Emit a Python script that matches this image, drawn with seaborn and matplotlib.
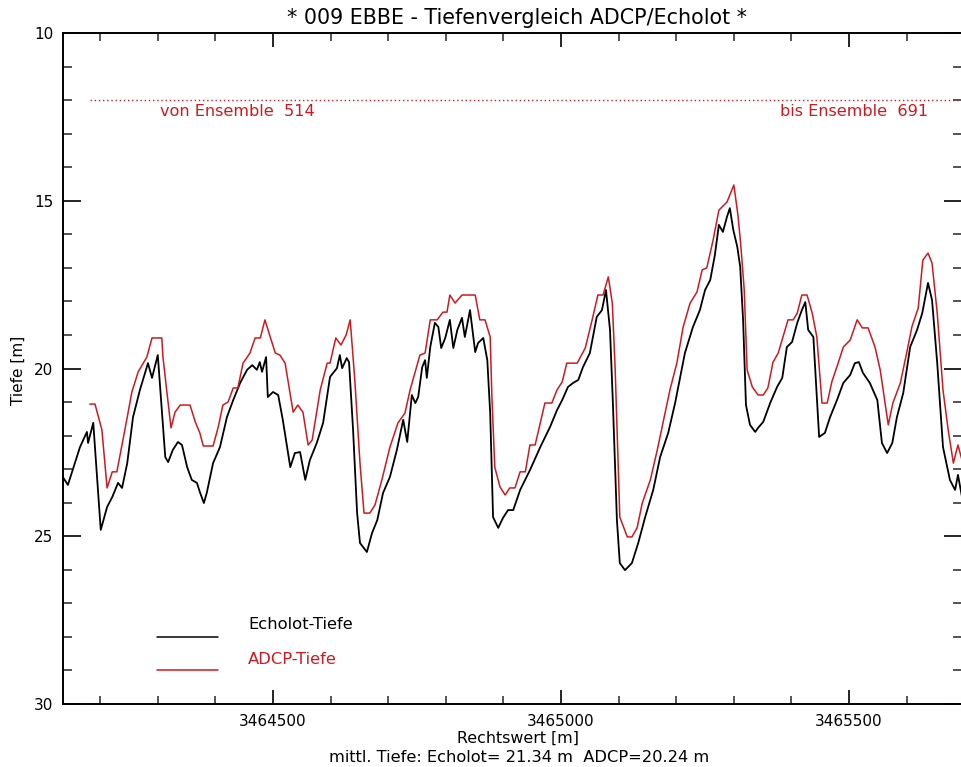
import numpy as np
import pandas as pd
import seaborn as sns
import matplotlib
matplotlib.use("Agg")
import matplotlib.pyplot as plt
from matplotlib.ticker import MultipleLocator

# ---------------- data ----------------
echo_x = [
    3464135, 3464144, 3464165, 3464177, 3464179, 3464188, 3464201, 3464212, 3464221, 3464231,
    3464238, 3464247, 3464257, 3464269, 3464278, 3464283, 3464290, 3464300, 3464313, 3464318,
    3464326, 3464335, 3464342, 3464351, 3464359, 3464368, 3464373, 3464380, 3464385, 3464396,
    3464408, 3464420, 3464431, 3464443, 3464455, 3464464, 3464472, 3464477, 3464481, 3464488,
    3464491, 3464500, 3464509, 3464517, 3464530, 3464538, 3464547,
    3464556, 3464564, 3464576, 3464587, 3464599, 3464611, 3464616, 3464620, 3464628, 3464632,
    3464639, 3464646, 3464651, 3464663, 3464672, 3464681, 3464691, 3464703, 3464715, 3464726,
    3464733, 3464741, 3464747, 3464752, 3464759, 3464764, 3464767, 3464773, 3464781, 3464787,
    3464792, 3464799, 3464807, 3464813, 3464820, 3464828, 3464833, 3464842, 3464851, 3464856,
    3464865, 3464872, 3464877, 3464882, 3464891, 3464899, 3464908, 3464917, 3464929, 3464946,
    3464964, 3464981, 3464993, 3465002, 3465012, 3465021, 3465030, 3465038, 3465050, 3465062,
    3465071, 3465078, 3465085, 3465090, 3465097, 3465102, 3465111, 3465123, 3465134, 3465146,
    3465160, 3465172, 3465186, 3465198, 3465207, 3465215, 3465229, 3465241, 3465250, 3465259,
    3465267, 3465274, 3465281, 3465288, 3465293, 3465299, 3465306, 3465311, 3465316, 3465321,
    3465328, 3465337, 3465342, 3465351, 3465363, 3465375, 3465384, 3465392, 3465401, 3465410,
    3465418, 3465424, 3465429, 3465438, 3465444, 3465448, 3465458, 3465467, 3465479, 3465490,
    3465502, 3465510, 3465517, 3465524, 3465536, 3465549, 3465557, 3465566, 3465575, 3465583,
    3465594, 3465606, 3465618, 3465627, 3465637, 3465644, 3465653, 3465663, 3465675, 3465684,
    3465689, 3465696,
]
echo_y = [
    23.23, 23.47, 22.34, 21.89, 22.22, 21.62, 24.81, 24.13, 23.83, 23.41,
    23.56, 22.82, 21.45, 20.64, 20.13, 19.84, 20.28, 19.60, 22.64, 22.79,
    22.43, 22.19, 22.28, 22.94, 23.32, 23.41, 23.68, 24.01, 23.71, 22.82,
    22.34, 21.45, 20.94, 20.43, 20.04, 19.90, 20.04, 19.81, 20.10, 19.66,
    20.85, 20.70, 20.79, 21.53, 22.94, 22.52, 22.49,
    23.32, 22.73, 22.22, 21.62, 20.25, 19.99, 19.60, 19.99, 19.69, 19.81,
    21.83, 24.31, 25.20, 25.47, 24.90, 24.52, 23.71, 23.23, 22.43, 21.53,
    22.19, 20.79, 21.03, 20.85, 19.96, 19.75, 20.28, 19.36, 18.64, 18.76,
    19.39, 19.09, 18.55, 19.39, 18.85, 18.49, 19.06, 18.26, 19.51, 19.24,
    19.09, 19.75, 21.33, 24.43, 24.75, 24.46, 24.22, 24.22, 23.62, 23.03,
    22.34, 21.74, 21.24, 20.94, 20.55, 20.43, 20.34, 19.96, 19.54, 18.46,
    18.26, 17.66, 18.85, 21.03, 24.52, 25.80, 26.01, 25.80, 25.20, 24.43,
    23.62, 22.64, 21.92, 21.03, 20.25, 19.54, 18.76, 18.26, 17.66, 17.36,
    16.62, 15.72, 15.93, 15.48, 15.22, 15.87, 16.38, 16.97, 18.55, 21.09,
    21.68, 21.89, 21.77, 21.59, 21.03, 20.55, 20.28, 19.36, 19.21, 18.64,
    18.26, 18.02, 18.85, 19.06, 20.85, 22.04, 21.92, 21.45, 20.94, 20.43,
    20.19, 19.84, 19.81, 20.13, 20.43, 20.94, 22.22, 22.52, 22.22, 21.45,
    20.73, 19.36, 18.85, 18.35, 17.45, 17.96, 19.84, 22.34, 23.32, 23.62,
    23.17, 23.83,
]

adcp_x = [
    3464182, 3464191, 3464203, 3464212, 3464221, 3464229, 3464247, 3464255, 3464266, 3464281,
    3464290, 3464307, 3464309, 3464316, 3464323, 3464330, 3464339, 3464356, 3464365, 3464373,
    3464379, 3464396, 3464405, 3464413, 3464422, 3464431, 3464439, 3464448, 3464460, 3464469,
    3464478, 3464486, 3464493, 3464504, 3464512, 3464521, 3464535, 3464543,
    3464552, 3464561, 3464568, 3464582, 3464594, 3464599, 3464609, 3464618, 3464627, 3464634,
    3464642, 3464651, 3464658, 3464668, 3464677, 3464689, 3464703, 3464717, 3464729, 3464738,
    3464755, 3464764, 3464773, 3464785, 3464795, 3464802, 3464807, 3464816, 3464828, 3464851,
    3464859, 3464868, 3464877, 3464880, 3464885, 3464894, 3464903, 3464911, 3464920, 3464929,
    3464938, 3464946,
    3464955, 3464972, 3464984, 3464993, 3465002, 3465010, 3465028, 3465042, 3465054, 3465064,
    3465073, 3465082, 3465089, 3465094, 3465102, 3465115, 3465123, 3465132, 3465141, 3465155,
    3465167, 3465177, 3465189, 3465201, 3465212, 3465224, 3465236, 3465245, 3465253, 3465264,
    3465274, 3465288, 3465300, 3465307, 3465312, 3465318, 3465323,
    3465332, 3465342, 3465351, 3465359, 3465368, 3465377, 3465394, 3465403, 3465410, 3465418,
    3465427, 3465436, 3465444, 3465453, 3465462, 3465470, 3465481, 3465490, 3465502, 3465514,
    3465523, 3465533, 3465545, 3465554, 3465568, 3465576, 3465589, 3465601, 3465609, 3465620,
    3465628, 3465637, 3465644, 3465653, 3465663, 3465672, 3465681, 3465689, 3465696,
]
adcp_y = [
    21.06, 21.06, 21.83, 23.56, 23.08, 23.08, 21.45, 20.70, 20.10, 19.66,
    19.09, 19.09, 19.66, 20.73, 21.77, 21.30, 21.09, 21.09, 21.59, 21.92,
    22.31, 22.31, 21.74, 21.09, 21.00, 20.58, 20.58, 19.84, 19.54, 19.09,
    19.09, 18.55, 18.94, 19.54, 19.60, 19.84, 21.30, 21.09,
    21.30, 22.28, 22.13, 20.64, 19.84, 19.84, 19.09, 19.30, 19.00, 18.55,
    20.34, 22.82, 24.31, 24.31, 24.07, 23.32, 22.34, 21.62, 21.33, 20.64,
    19.60, 19.54, 18.55, 18.55, 18.32, 18.32, 17.81, 18.05, 17.81, 17.81,
    18.55, 18.55, 19.06, 20.85, 22.94, 23.53, 23.77, 23.56, 23.56, 23.08,
    23.08, 22.28,
    22.28, 21.03, 21.03, 20.64, 20.40, 19.84, 19.84, 19.39, 18.55, 17.81,
    17.81, 17.27, 18.05, 20.04, 24.43, 25.02, 25.02, 24.75, 24.01, 23.32,
    22.43, 21.62, 20.64, 19.84, 18.76, 18.05, 17.72, 17.06, 17.00, 16.17,
    15.28, 15.04, 14.53, 15.42, 16.32, 17.66, 20.04,
    20.55, 20.79, 20.79, 20.58, 19.81, 19.54, 18.55, 18.55, 18.35, 17.81,
    17.81, 18.35, 19.06, 21.03, 21.03, 20.40, 19.84, 19.36, 19.15, 18.55,
    18.79, 18.79, 19.36, 20.04, 21.68, 21.03, 20.43, 19.45, 18.76, 18.20,
    16.77, 16.56, 16.86, 18.35, 20.64, 21.83, 22.82, 22.28, 22.73,
]

ensemble_from = 514
ensemble_to = 691
marker_depth = 12.0
marker_start = 3464182
mean_echo = 21.34
mean_adcp = 20.24
x_limits = (3464136, 3465696)
y_limits = (30, 10)
x_major_ticks = [3464500, 3465000, 3465500]
y_major_ticks = [10, 15, 20, 25, 30]

title = "* 009 EBBE - Tiefenvergleich ADCP/Echolot *"
series_names = ["Echolot-Tiefe", "ADCP-Tiefe"]

RED = "#d2181e"

# ---------------- figure ----------------
sns.set_theme(style="ticks")
plt.rcParams["font.family"] = ["DejaVu Sans"]
plt.rcParams["text.color"] = "black"
plt.rcParams["axes.labelcolor"] = "black"
plt.rcParams["axes.linewidth"] = 1.4

W, H = 962, 767
fig = plt.figure(figsize=(W / 100, H / 100), dpi=100)
fig.patch.set_facecolor("white")
L, R, T, B = 63.3, 962, 33, 704
ax = fig.add_axes([L / W, (H - B) / H, (R - L) / W, (B - T) / H])
ax.set_facecolor("white")

df_e = pd.DataFrame({"Rechtswert": echo_x, "Tiefe": echo_y})
df_a = pd.DataFrame({"Rechtswert": adcp_x, "Tiefe": adcp_y})
sns.lineplot(data=df_e, x="Rechtswert", y="Tiefe", ax=ax, color="black",
             linewidth=1.3, estimator=None, sort=False)
sns.lineplot(data=df_a, x="Rechtswert", y="Tiefe", ax=ax, color=RED,
             linewidth=1.1, estimator=None, sort=False)

# dotted ensemble line
ax.hlines(marker_depth, marker_start, x_limits[1], colors=RED,
          linestyles=(0, (1, 2.0)), linewidth=1.0)
ax.text(3464304, marker_depth + 0.35, f"von Ensemble  {ensemble_from}",
        color=RED, fontsize=11.6, ha="left", va="center")
ax.text(3465380, marker_depth + 0.33, f"bis Ensemble  {ensemble_to}",
        color=RED, fontsize=11.6, ha="left", va="center")

# legend (IDL style, drawn in axes fractions)
ax.plot([0.104, 0.172], [0.100, 0.100], transform=ax.transAxes, color="black", lw=1.1)
ax.plot([0.104, 0.172], [0.051, 0.051], transform=ax.transAxes, color=RED, lw=1.1)
ax.text(0.2055, 0.118, series_names[0], transform=ax.transAxes, fontsize=11.8,
        ha="left", va="center", color="black")
ax.text(0.2055, 0.067, series_names[1], transform=ax.transAxes, fontsize=11.8,
        ha="left", va="center", color=RED)

ax.set_xlim(*x_limits)
ax.set_ylim(*y_limits)
ax.set_xticks(x_major_ticks)
ax.set_xticklabels([str(v) for v in x_major_ticks])
ax.set_yticks(y_major_ticks)
ax.set_yticklabels([str(v) for v in y_major_ticks])
ax.xaxis.set_minor_locator(MultipleLocator(100))
ax.yaxis.set_minor_locator(MultipleLocator(1))
ax.tick_params(axis="x", which="major", direction="in", length=10, width=1.2,
               top=True, bottom=True, labelsize=11, pad=7, colors="black")
ax.tick_params(axis="x", which="minor", direction="in", length=5.5, width=1.1,
               top=True, bottom=True)
ax.tick_params(axis="y", which="major", direction="in", length=13, width=1.2,
               left=True, right=True, labelsize=11, pad=7, colors="black")
ax.tick_params(axis="y", which="minor", direction="in", length=6.5, width=1.1,
               left=True, right=True)
for s in ax.spines.values():
    s.set_visible(True)
    s.set_color("black")
    s.set_linewidth(1.4)
ax.set_xlabel("")
ax.set_ylabel("")

fig.text(517 / W, 1 - 18 / H, title, ha="center", va="center", fontsize=14.9,
         color="black")
fig.text(18 / W, 1 - 370 / H, "Tiefe [m]", rotation=90, ha="center", va="center",
         fontsize=11, color="black")
fig.text(518 / W, 1 - 738 / H, "Rechtswert [m]", ha="center", va="center",
         fontsize=11.4, color="black")
fig.text(519 / W, 1 - 757 / H,
         f"mittl. Tiefe: Echolot= {mean_echo:.2f} m  ADCP={mean_adcp:.2f} m",
         ha="center", va="center", fontsize=11.7, color="black")

fig.savefig("out.png", dpi=100, facecolor="white")
